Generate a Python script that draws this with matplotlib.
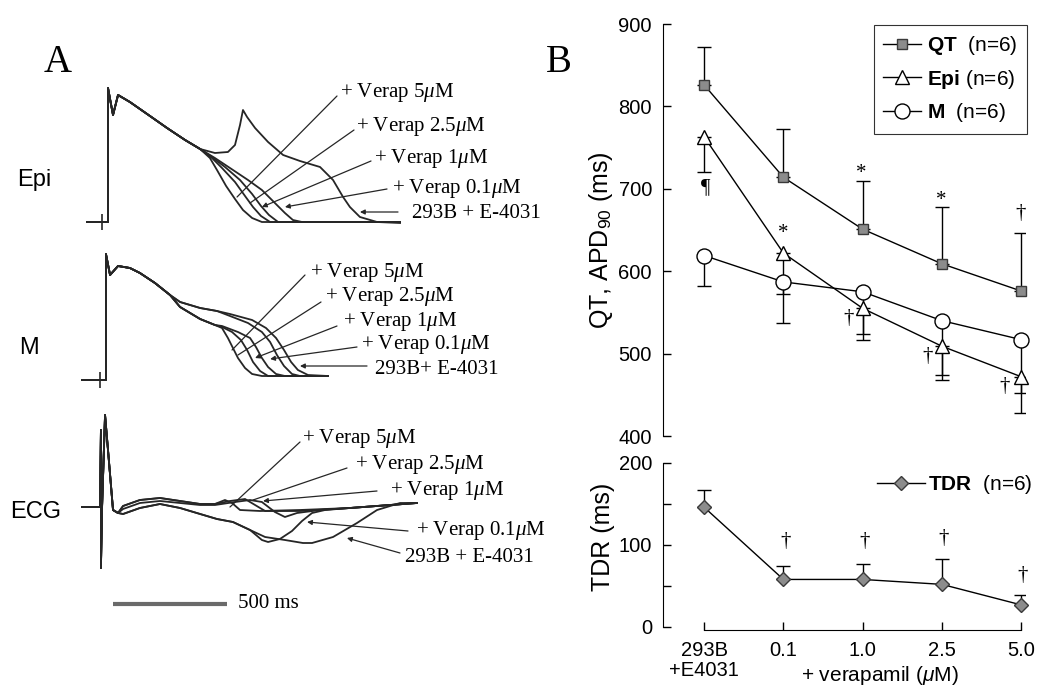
import matplotlib.pyplot as plt

plt.rcParams['font.family'] = ['Liberation Sans', 'DejaVu Sans']
plt.rcParams['mathtext.fontset'] = 'custom'
plt.rcParams['mathtext.rm'] = 'Liberation Sans'
plt.rcParams['mathtext.bf'] = 'Liberation Sans:bold'
plt.rcParams['mathtext.it'] = 'Liberation Serif:italic'
plt.rcParams['mathtext.sf'] = 'Liberation Sans:italic'

W, H = 1047, 688
SERIF = 'Liberation Serif'
TRACE = '#262626'

# ---------------- panel B data ----------------
doses = ['293B\n+E4031', '0.1', '1.0', '2.5', '5.0']
qt = [826, 714, 651, 609, 576]
qt_sd = [46, 59, 58, 69, 70]
epi = [763, 622, 555, 509, 472]
epi_sd = [43, 50, 39, 41, 44]
m_apd = [619, 587, 575, 540, 517]
m_sd = [37, 50, 51, 66, 65]
tdr = [146, 58, 58, 52, 27]
tdr_sd = [21, 17, 19, 31, 12]

# significance marks: symbol, dose position, value
top_marks = [('¶', 0.02, 701), ('*', 1.0, 646), ('*', 1.98, 719), ('*', 2.99, 686),
             ('†', 3.99, 670), ('†', 1.82, 543), ('†', 2.82, 496), ('†', 3.79, 460)]
tdr_marks = [('†', 1.03, 104), ('†', 2.02, 104), ('†', 3.02, 108), ('†', 4.02, 63)]

# ---------------- panel A traces (time ms from upstroke) ----------------
# Epi action potentials (mV)
epi_t0 = [-92, 0, 0, 22, 44, 96, 184, 259, 338, 404]
epi_v0 = [-85, -85, 49, 22, 42, 35, 21, 9, -3, -12]
epi_ead_t = [469, 526, 557, 579, 592, 610, 645, 702, 768, 842, 930, 987, 1031, 1061, 1105, 1180, 1281]
epi_ead_v = [-16, -15, -8, 12, 27, 20, 9, -5, -18, -24, -30, -43, -60, -70, -80, -85, -86]
epi_01_t = [469, 535, 614, 675, 732, 776, 811, 851, 1281]
epi_01_v = [-21, -31, -43, -53, -66, -76, -83, -85, -85]
epi_1_t = [461, 513, 579, 632, 671, 706, 746, 1281]
epi_1_v = [-21, -30, -43, -57, -69, -78, -85, -85]
epi_25_t = [456, 500, 557, 601, 636, 671, 711, 1281]
epi_25_v = [-21, -31, -45, -59, -70, -79, -85, -85]
epi_5_t = [447, 478, 518, 557, 592, 632, 675, 1281]
epi_5_v = [-21, -33, -49, -62, -73, -81, -85, -85]
epi_stim = -26

# M cell action potentials (mV)
m_t0 = [-114, -9, -9, 9, 44, 96, 140, 206, 272]
m_v0 = [-85, -85, 41, 20, 29, 27, 22, 12, 0]
m_5_t = [316, 404, 469, 500, 526, 548, 570, 601, 632, 675, 965]
m_5_v = [-12, -24, -30, -33, -43, -53, -63, -73, -79, -81, -81]
m_25_t = [316, 404, 469, 500, 544, 583, 610, 636, 667, 702, 965]
m_25_v = [-12, -24, -30, -32, -37, -45, -55, -67, -76, -81, -81]
m_1_t = [316, 404, 469, 500, 570, 623, 649, 675, 702, 737, 776, 965]
m_1_v = [-12, -24, -30, -31, -37, -43, -52, -63, -72, -79, -81, -81]
m_01_t = [316, 404, 478, 535, 614, 675, 711, 741, 772, 807, 842, 965]
m_01_v = [-7, -13, -16, -21, -28, -37, -47, -60, -71, -79, -81, -81]
m_ead_t = [316, 404, 478, 535, 632, 693, 737, 772, 803, 833, 877, 965]
m_ead_v = [-7, -13, -16, -19, -25, -33, -43, -55, -67, -75, -80, -81]
m_stim = -35

# transmural ECG (arbitrary units)
ecg_t0 = [-114, -35, -31, -31, -26, -13, 0, 22, 44]
ecg_v0 = [0, 0, 77, -61, 0, 92, 57, -3, -6]
ecg_5_t = [66, 140, 228, 316, 404, 469, 513, 544, 579, 667, 842, 1061, 1355]
ecg_5_v = [1, 7, 9, 6, 3, 3, 7, 4, -3, -4, -3, -1, 4]
ecg_25_t = [66, 140, 228, 316, 404, 469, 535, 601, 645, 689, 842, 1061, 1355]
ecg_25_v = [1, 7, 9, 6, 3, 3, 6, 8, 2, -4, -4, -1, 4]
ecg_1_t = [66, 140, 228, 316, 404, 469, 557, 623, 675, 732, 776, 829, 930, 1061, 1355]
ecg_1_v = [-2, 4, 6, 4, 2, 2, 5, 7, 5, -5, -10, -6, -3, -1, 4]
ecg_01_t = [66, 140, 228, 316, 404, 478, 548, 623, 675, 702, 754, 807, 851, 895, 952, 1061, 1355]
ecg_01_v = [-7, -1, 3, -1, -7, -12, -15, -23, -33, -35, -32, -24, -14, -6, -3, -1, 4]
ecg_ead_t = [66, 140, 228, 316, 404, 478, 548, 623, 689, 776, 855, 895, 987, 1092, 1180, 1281, 1355]
ecg_ead_v = [-7, -1, 3, -1, -7, -12, -15, -23, -30, -33, -36, -36, -30, -16, -3, 4, 4]

scale_ms = 500

# arrow tips on the traces (ms, value) for 5, 2.5, 1, 0.1 uM, 293B+E-4031
epi_tips = [(566, -60), (623, -66), (675, -70), (776, -70), (1105, -75)]
m_tips = [(544, -55), (570, -60), (645, -63), (711, -64), (842, -71)]
ecg_tips = [(535, 0), (636, 7), (680, 6), (873, -15), (1048, -31)]

verap = ['+ Verap 5$\\mu$M', '+ Verap 2.5$\\mu$M', '+ Verap 1$\\mu$M', '+ Verap 0.1$\\mu$M']


def fp(x, y):
    # figure pixel (from top-left) -> figure fraction
    return (x / W, 1 - y / H)


fig = plt.figure(figsize=(W / 100, H / 100), dpi=100)

# ================= panel A =================
ax_a = fig.add_axes([0, 0, 520 / W, 1])
ax_a.set_xlim(-108 * 4.386, (520 - 108) * 4.386)
ax_a.set_ylim(0, H)
ax_a.axis('off')

epi_off, m_off, ecg_off = 551, 393, 181

def trace(t0, v0, t, v, off):
    ax_a.plot(t0 + t, [val + off for val in v0 + v], color=TRACE, lw=1.3)

for t, v in [(epi_ead_t, epi_ead_v), (epi_01_t, epi_01_v), (epi_1_t, epi_1_v),
             (epi_25_t, epi_25_v), (epi_5_t, epi_5_v)]:
    trace(epi_t0, epi_v0, t, v, epi_off)
for t, v in [(m_ead_t, m_ead_v), (m_01_t, m_01_v), (m_1_t, m_1_v),
             (m_25_t, m_25_v), (m_5_t, m_5_v)]:
    trace(m_t0, m_v0, t, v, m_off)
for t, v in [(ecg_ead_t, ecg_ead_v), (ecg_01_t, ecg_01_v), (ecg_1_t, ecg_1_v),
             (ecg_25_t, ecg_25_v), (ecg_5_t, ecg_5_v)]:
    trace(ecg_t0, ecg_v0, t, v, ecg_off)

ax_a.plot([epi_stim], [-85 + epi_off], marker='|', ms=11, mew=1.2, color=TRACE)
ax_a.plot([m_stim], [-85 + m_off], marker='|', ms=11, mew=1.2, color=TRACE)

ax_a.plot([22, 22 + scale_ms], [84, 84], color='#6a6a6a', lw=3, solid_capstyle='butt')
fig.text(*fp(238, 604), '500 ms', family=SERIF, fontsize=15, va='center')


def callouts(tips, off, labels, text_pos, starts):
    for i, (tip, lab, tp, st) in enumerate(zip(tips, labels, text_pos, starts)):
        style = '-' if i < 2 else '-|>'
        ax_a.annotate('', xy=(tip[0], tip[1] + off), xycoords='data',
                      xytext=fp(*st), textcoords='figure fraction',
                      arrowprops=dict(arrowstyle=style, color=TRACE, lw=0.9,
                                      shrinkA=0, shrinkB=0, mutation_scale=7))
        fig.text(*fp(*tp), lab, family=SERIF, fontsize=15, ha='left', va='center')


callouts(epi_tips, epi_off, verap + ['293B + E-4031'],
         [(340, 92), (356, 127), (374, 158), (392, 188), (412, 213)],
         [(337, 96), (354, 130), (371, 161), (387, 189), (398, 212)])
callouts(m_tips, m_off, verap + ['293B+ E-4031'],
         [(310, 272), (325, 297), (343, 321), (361, 345), (375, 370)],
         [(305, 275), (321, 302), (337, 326), (357, 347), (367, 366)])
callouts(ecg_tips, ecg_off, verap + ['293B + E-4031'],
         [(302, 438), (355, 465), (390, 490), (416, 530), (405, 557)],
         [(300, 442), (347, 468), (377, 491), (408, 531), (400, 553)])

fig.text(*fp(34, 180), 'Epi', fontsize=17, ha='center', va='center')
fig.text(*fp(29, 348), 'M', fontsize=17, ha='center', va='center')
fig.text(*fp(36, 512), 'ECG', fontsize=17, ha='center', va='center')
fig.text(*fp(58, 62), 'A', family=SERIF, fontsize=28, ha='center', va='center')
fig.text(*fp(559, 62), 'B', family=SERIF, fontsize=28, ha='center', va='center')

# ================= panel B =================
x = list(range(len(doses)))
ax_top = fig.add_axes([663 / W, 1 - 436 / H, 362 / W, 412 / H])
ax_bot = fig.add_axes([663 / W, 1 - 627 / H, 362 / W, 164 / H])
for ax in (ax_top, ax_bot):
    ax.set_xlim(-0.52, 4.05)
    ax.spines[['top', 'right']].set_visible(False)
    ax.tick_params(which='both', direction='in', length=6, width=1, labelsize=14.5, pad=8)
    ax.patch.set_alpha(0)

ax_top.spines['bottom'].set_visible(False)
ax_top.set_xticks([])
ax_top.set_ylim(400, 900)
ax_top.set_yticks(range(400, 901, 100))

ekw = dict(fmt='none', ecolor='k', elinewidth=1, capsize=5, capthick=1, zorder=2)
ax_top.errorbar(x, qt, yerr=[[0] * 5, qt_sd], **ekw)
ax_top.errorbar(x, epi, yerr=[epi_sd, [0] * 5], **ekw)
ax_top.errorbar(x, m_apd, yerr=[m_sd, [0] * 5], **ekw)

ax_top.plot(x, qt, '-s', color='k', lw=1, mfc='#8c8c8c', mec='#3a3a3a', ms=7.2,
            label='$\\mathbf{QT}$  (n=6)', zorder=3, clip_on=False)
ax_top.plot(x, epi, '-^', color='k', lw=1, mfc='white', mec='k', ms=10,
            label='$\\mathbf{Epi}$ (n=6)', zorder=3, clip_on=False)
ax_top.plot(x, m_apd, '-o', color='k', lw=1, mfc='white', mec='k', ms=10.8,
            label='$\\mathbf{M}$  (n=6)', zorder=3, clip_on=False)

for s, xi, yi in top_marks:
    ax_top.text(xi, yi, s, family=SERIF, fontsize=15, ha='center', va='center')

leg = ax_top.legend(loc='upper right', bbox_to_anchor=fp(1027, 25), bbox_transform=fig.transFigure,
                    frameon=True, fancybox=False, edgecolor='k', fontsize=15, handlelength=1.8,
                    handletextpad=0.3, labelspacing=0.5, borderpad=0.45, borderaxespad=0)
leg.get_frame().set_linewidth(0.8)
ax_top.set_ylabel('QT, APD$_{90}$ (ms)', fontsize=18)
ax_top.yaxis.set_label_coords((615 - 663) / 362, (436 - 240) / 412)

ax_bot.set_ylim(0, 200)
ax_bot.set_yticks([0, 100, 200])
ax_bot.set_yticks([50, 150], minor=True)
ax_bot.spines['left'].set_bounds(0, 200)
ax_bot.spines['bottom'].set_position(('outward', 2))
ax_bot.spines['bottom'].set_bounds(0, 4)
ax_bot.set_xticks(x, doses)
for lbl in ax_bot.get_xticklabels():
    lbl.set_linespacing(1.05)

ax_bot.errorbar(x, tdr, yerr=[[0] * 5, tdr_sd], **ekw)
ax_bot.plot(x, tdr, '-D', color='k', lw=1, mfc='#8c8c8c', mec='#3a3a3a', ms=7.6,
            label='$\\mathbf{TDR}$  (n=6)', zorder=3, clip_on=False)
for s, xi, yi in tdr_marks:
    ax_bot.text(xi, yi, s, family=SERIF, fontsize=15, ha='center', va='center')

ax_bot.legend(loc='center left', bbox_to_anchor=fp(877, 485), bbox_transform=fig.transFigure,
              frameon=False, fontsize=15, handlelength=2.3, handletextpad=0.15,
              borderpad=0, borderaxespad=0)
ax_bot.set_ylabel('TDR (ms)', fontsize=18)
ax_bot.yaxis.set_label_coords((615 - 663) / 362, (627 - 537) / 164)
ax_bot.set_xlabel('+ verapamil ($\\mathsf{\\mu}$M)', fontsize=15)
ax_bot.xaxis.set_label_coords((880 - 663) / 362, (627 - 664) / 164)

fig.savefig('out.png', dpi=100)
